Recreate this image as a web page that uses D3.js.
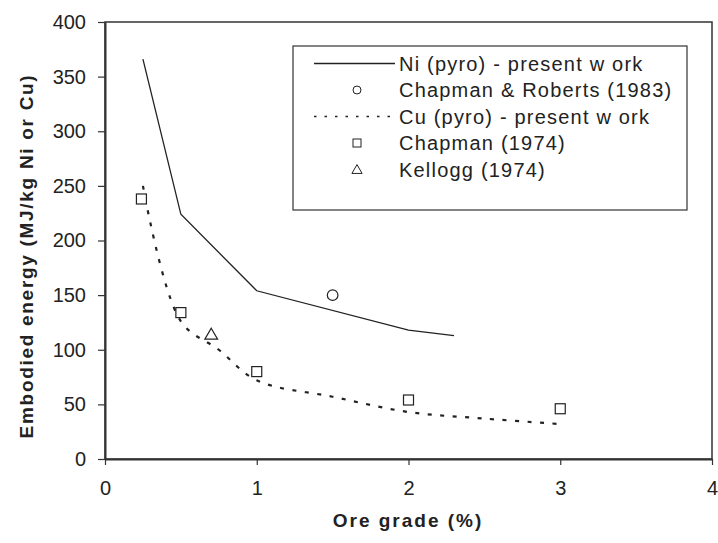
<!DOCTYPE html>
<html><head><meta charset="utf-8">
<script src="https://cdn.jsdelivr.net/npm/d3@7"></script>
<style>
html,body{margin:0;padding:0;background:#fff;}
svg text{font-family:"Liberation Sans",Arial,sans-serif;fill:#222;}
</style></head>
<body><svg id="c" width="718" height="543"></svg>
<script>
// Data
const niX = [0.25, 0.5, 1, 2, 2.3];
const niY = [366, 224, 154, 118, 113];
const cuX = [0.25, 0.5, 0.75, 1, 1.5, 2, 2.5, 3];
const cuY = [250, 126, 100, 72, 57, 43, 37, 32];
const crX = [1.5];            // Chapman & Roberts (1983)
const crY = [150];
const chX = [0.24, 0.5, 1, 2, 3]; // Chapman (1974)
const chY = [238, 134, 80, 54, 46];
const kgX = [0.7];            // Kellogg (1974)
const kgY = [113];
const xTicks = [0, 1, 2, 3, 4];
const yTicks = [0, 50, 100, 150, 200, 250, 300, 350, 400];
const legendLabels = ["Ni (pyro) - present w ork", "Chapman & Roberts (1983)", "Cu (pyro) - present w ork", "Chapman (1974)", "Kellogg (1974)"];
const xTitle = "Ore grade (%)";
const yTitle = "Embodied energy (MJ/kg Ni or Cu)";

const svg = d3.select("#c");
const L = 105, R = 712, T = 22, B = 459;
const x = d3.scaleLinear().domain([0, 4]).range([L, R]);
const y = d3.scaleLinear().domain([0, 400]).range([B, T]);
const ink = "#222";

// frame
svg.append("rect").attr("x", L).attr("y", T).attr("width", R - L).attr("height", B - T)
  .attr("fill", "none").attr("stroke", "#333").attr("stroke-width", 1.5);

// axes
const gx = svg.append("g").attr("transform", `translate(0,${B})`)
  .call(d3.axisBottom(x).tickValues(xTicks).tickFormat(d3.format("d")).tickSizeInner(6).tickSizeOuter(0).tickPadding(16));
const gy = svg.append("g").attr("transform", `translate(${L},0)`)
  .call(d3.axisLeft(y).tickValues(yTicks).tickFormat(d3.format("d")).tickSizeInner(7).tickSizeOuter(0).tickPadding(12));
[gx, gy].forEach(g => {
  g.select(".domain").attr("stroke", "#333").attr("stroke-width", 2);
  g.selectAll(".tick line").attr("stroke", "#333").attr("stroke-width", 1.2);
  g.selectAll(".tick text").attr("font-size", 20).attr("fill", ink)
    .style("font-family", '"Liberation Sans",Arial,sans-serif');
});

// axis titles
svg.append("text").attr("x", 408).attr("y", 527).attr("text-anchor", "middle")
  .attr("font-size", 19).attr("font-weight", "bold").attr("letter-spacing", 2).text(xTitle);
svg.append("text").attr("transform", "translate(33,256) rotate(-90)").attr("text-anchor", "middle")
  .attr("font-size", 19).attr("font-weight", "bold").attr("letter-spacing", 1.7).text(yTitle);

// lines
const niData = niX.map((v, i) => [v, niY[i]]);
const cuData = cuX.map((v, i) => [v, cuY[i]]);
svg.append("path").datum(niData)
  .attr("d", d3.line().x(d => x(d[0])).y(d => y(d[1])))
  .attr("fill", "none").attr("stroke", ink).attr("stroke-width", 1.3);
svg.append("path").datum(cuData)
  .attr("d", d3.line().x(d => x(d[0])).y(d => y(d[1])).curve(d3.curveCatmullRom.alpha(0.5)))
  .attr("fill", "none").attr("stroke", ink).attr("stroke-width", 2.2).attr("stroke-dasharray", "4,8.5");

// markers
const sqSize = 10;
svg.append("g").selectAll("rect").data(chX.map((v, i) => [v, chY[i]])).join("rect")
  .attr("x", d => x(d[0]) - sqSize / 2).attr("y", d => y(d[1]) - sqSize / 2)
  .attr("width", sqSize).attr("height", sqSize)
  .attr("fill", "#fff").attr("stroke", ink).attr("stroke-width", 1.2);
svg.append("g").selectAll("circle").data(crX.map((v, i) => [v, crY[i]])).join("circle")
  .attr("cx", d => x(d[0])).attr("cy", d => y(d[1])).attr("r", 5.3)
  .attr("fill", "#fff").attr("stroke", ink).attr("stroke-width", 1.2);
const tri = d3.symbol().type(d3.symbolTriangle).size(70);
svg.append("g").selectAll("path").data(kgX.map((v, i) => [v, kgY[i]])).join("path")
  .attr("transform", d => `translate(${x(d[0])},${y(d[1])})`).attr("d", tri)
  .attr("fill", "none").attr("stroke", ink).attr("stroke-width", 1.2);

// legend
const lg = svg.append("g");
lg.append("rect").attr("x", 293).attr("y", 46).attr("width", 394).attr("height", 164)
  .attr("fill", "#fff").attr("stroke", "#333").attr("stroke-width", 1.2);
const rowY = [63.5, 90, 116.5, 143, 169.5];
const mx = 357;
lg.append("line").attr("x1", 314).attr("x2", 395).attr("y1", rowY[0]).attr("y2", rowY[0])
  .attr("stroke", ink).attr("stroke-width", 1.3);
lg.append("circle").attr("cx", mx).attr("cy", rowY[1]).attr("r", 4)
  .attr("fill", "none").attr("stroke", ink).attr("stroke-width", 1);
lg.append("line").attr("x1", 314).attr("x2", 395).attr("y1", rowY[2]).attr("y2", rowY[2])
  .attr("stroke", ink).attr("stroke-width", 1.6).attr("stroke-dasharray", "2.5,8");
lg.append("rect").attr("x", mx - 4).attr("y", rowY[3] - 4).attr("width", 8).attr("height", 8)
  .attr("fill", "none").attr("stroke", ink).attr("stroke-width", 1);
lg.append("path").attr("transform", `translate(${mx},${rowY[4] + 1})`)
  .attr("d", d3.symbol().type(d3.symbolTriangle).size(45))
  .attr("fill", "none").attr("stroke", ink).attr("stroke-width", 1);
lg.selectAll("text.lab").data(legendLabels).join("text").attr("class", "lab")
  .attr("x", 399).attr("y", (d, i) => rowY[i]).attr("dy", "0.36em")
  .attr("font-size", 20).attr("letter-spacing", 1.2).text(d => d);
</script></body></html>
